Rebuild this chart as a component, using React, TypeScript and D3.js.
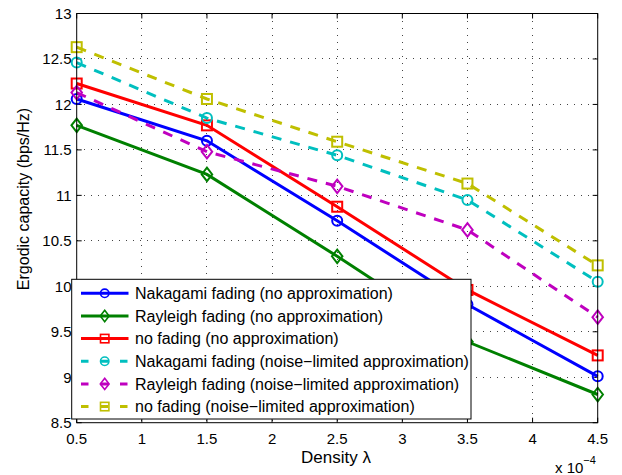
import React from "react";
import * as d3 from "d3";

// Density values (units of 1e-4)
const density = [0.5, 1.5, 2.5, 3.5, 4.5];

// Ergodic capacity (bps/Hz) per scenario
const nakagamiExact = [12.06, 11.6, 10.72, 9.8, 9.01];
const rayleighExact = [11.77, 11.23, 10.33, 9.39, 8.81];
const noFadingExact = [12.23, 11.77, 10.875, 9.96, 9.24];
const nakagamiNoise = [12.46, 11.85, 11.44, 10.95, 10.05];
const rayleighNoise = [12.13, 11.48, 11.1, 10.62, 9.66];
const noFadingNoise = [12.63, 12.06, 11.59, 11.13, 10.23];

const seriesLabels = [
  "Nakagami fading (no approximation)",
  "Rayleigh fading (no approximation)",
  "no fading (no approximation)",
  "Nakagami fading (noise\u2212limited approximation)",
  "Rayleigh fading (noise\u2212limited approximation)",
  "no fading (noise\u2212limited approximation)",
];

const xTicks = [0.5, 1, 1.5, 2, 2.5, 3, 3.5, 4, 4.5];
const yTicks = [8.5, 9, 9.5, 10, 10.5, 11, 11.5, 12, 12.5, 13];

type Marker = "circle" | "diamond" | "square";

const series: { values: number[]; color: string; dashed: boolean; marker: Marker }[] = [
  { values: nakagamiExact, color: "#0000ff", dashed: false, marker: "circle" },
  { values: rayleighExact, color: "#008000", dashed: false, marker: "diamond" },
  { values: noFadingExact, color: "#ff0000", dashed: false, marker: "square" },
  { values: nakagamiNoise, color: "#00bfbf", dashed: true, marker: "circle" },
  { values: rayleighNoise, color: "#bf00bf", dashed: true, marker: "diamond" },
  { values: noFadingNoise, color: "#bfbf00", dashed: true, marker: "square" },
];

const W = 622;
const H = 475;
const plot = { left: 76.7, right: 597.7, top: 13.5, bottom: 422.7 };
const FONT = "'Liberation Sans', Arial, Helvetica, sans-serif";

function MarkerShape({ kind, x, y, s, color, sw }: { kind: Marker; x: number; y: number; s: number; color: string; sw: number }) {
  if (kind === "circle") {
    return <circle cx={x} cy={y} r={s} fill="none" stroke={color} strokeWidth={sw} />;
  }
  if (kind === "square") {
    return <rect x={x - s} y={y - s} width={2 * s} height={2 * s} fill="none" stroke={color} strokeWidth={sw} />;
  }
  const hw = s * 1.05;
  const hh = s * 1.35;
  return (
    <path
      d={`M${x},${y - hh}L${x + hw},${y}L${x},${y + hh}L${x - hw},${y}Z`}
      fill="none"
      stroke={color}
      strokeWidth={sw}
    />
  );
}

export default function App() {
  const x = d3.scaleLinear().domain([0.5, 4.5]).range([plot.left, plot.right]);
  const y = d3.scaleLinear().domain([8.5, 13]).range([plot.bottom, plot.top]);
  const line = d3
    .line<number>()
    .x((_, i) => x(density[i]))
    .y((v) => y(v));

  const tickLen = 5;
  const legend = { x0: 71.7, y0: 279.3, x1: 471, y1: 419, row0: 293.3, step: 22.65 };

  return (
    <svg
      width={W}
      height={H}
      viewBox={`0 0 ${W} ${H}`}
      style={{ position: "absolute", left: 0, top: 0, background: "#fff" }}
      fontFamily={FONT}
    >
      <rect x={0} y={0} width={W} height={H} fill="#fff" />

      {/* grid */}
      <g stroke="#444" strokeWidth={1} strokeDasharray="1,6" shapeRendering="crispEdges">
        {xTicks.slice(1, -1).map((t) => (
          <line key={`gx${t}`} x1={x(t)} x2={x(t)} y1={plot.top} y2={plot.bottom} />
        ))}
        {yTicks.slice(1, -1).map((t) => (
          <line key={`gy${t}`} x1={plot.left} x2={plot.right} y1={y(t)} y2={y(t)} />
        ))}
      </g>

      {/* tick marks on all four sides */}
      <g stroke="#000" strokeWidth={1}>
        {xTicks.map((t) => (
          <g key={`tx${t}`}>
            <line x1={x(t)} x2={x(t)} y1={plot.bottom} y2={plot.bottom - tickLen} />
            <line x1={x(t)} x2={x(t)} y1={plot.top} y2={plot.top + tickLen} />
          </g>
        ))}
        {yTicks.map((t) => (
          <g key={`ty${t}`}>
            <line x1={plot.left} x2={plot.left + tickLen} y1={y(t)} y2={y(t)} />
            <line x1={plot.right} x2={plot.right - tickLen} y1={y(t)} y2={y(t)} />
          </g>
        ))}
      </g>

      {/* data series */}
      {series.map((s, i) => (
        <g key={`s${i}`}>
          <path
            d={line(s.values) || ""}
            fill="none"
            stroke={s.color}
            strokeWidth={3}
            strokeDasharray={s.dashed ? "10,9" : undefined}
          />
          {s.values.map((v, j) => (
            <MarkerShape key={j} kind={s.marker} x={x(density[j])} y={y(v)} s={5} color={s.color} sw={2} />
          ))}
        </g>
      ))}

      {/* axes box */}
      <rect
        x={plot.left}
        y={plot.top}
        width={plot.right - plot.left}
        height={plot.bottom - plot.top}
        fill="none"
        stroke="#000"
        strokeWidth={1}
      />

      {/* tick labels */}
      <g fontSize={15} fill="#000">
        {xTicks.map((t) => (
          <text key={`lx${t}`} x={x(t)} y={443.5} textAnchor="middle">
            {String(t)}
          </text>
        ))}
        {yTicks.map((t) => (
          <text key={`ly${t}`} x={71.5} y={y(t)} dy="0.36em" textAnchor="end">
            {String(t)}
          </text>
        ))}
      </g>

      {/* exponent */}
      <text x={555} y={472.5} fontSize={15} fill="#000">
        x 10
        <tspan fontSize={11} dy={-9}>
          {"\u22124"}
        </tspan>
      </text>

      {/* axis labels */}
      <text x={336} y={463} fontSize={17} textAnchor="middle" fill="#000">
        Density λ
      </text>
      <text transform="translate(28.5,199) rotate(-90)" fontSize={16} textAnchor="middle" fill="#000">
        Ergodic capacity (bps/Hz)
      </text>

      {/* legend */}
      <g>
        <rect
          x={legend.x0}
          y={legend.y0}
          width={legend.x1 - legend.x0}
          height={legend.y1 - legend.y0}
          fill="#fff"
          stroke="#000"
          strokeWidth={1}
        />
        {series.map((s, i) => {
          const ry = legend.row0 + i * legend.step;
          return (
            <g key={`lg${i}`}>
              <line
                x1={81}
                x2={128.5}
                y1={ry}
                y2={ry}
                stroke={s.color}
                strokeWidth={3}
                strokeDasharray={s.dashed ? "7.5,12" : undefined}
              />
              <MarkerShape kind={s.marker} x={104.7} y={ry} s={4.2} color={s.color} sw={1.6} />
              <text x={135} y={ry} dy="0.36em" fontSize={16} fill="#000">
                {seriesLabels[i]}
              </text>
            </g>
          );
        })}
      </g>
    </svg>
  );
}
